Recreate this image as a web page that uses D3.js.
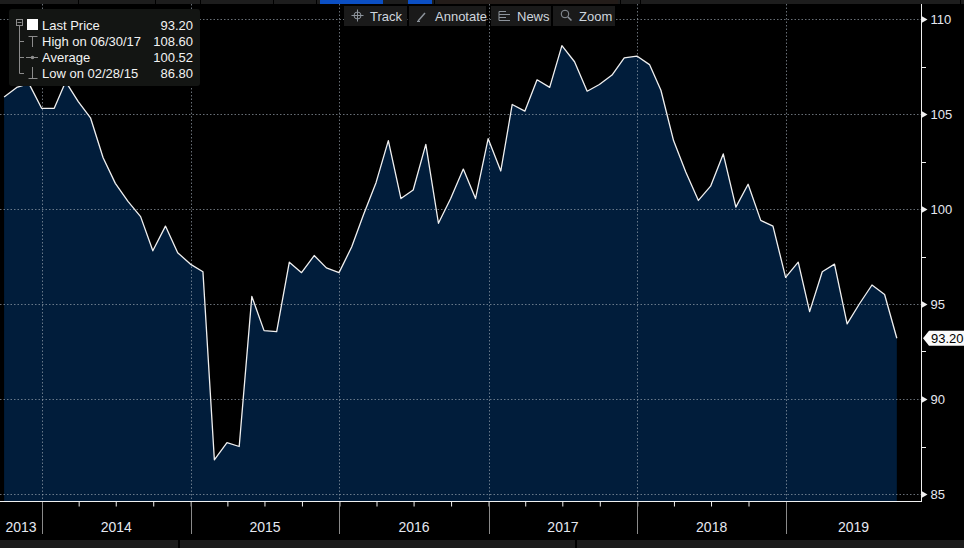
<!DOCTYPE html>
<html><head><meta charset="utf-8">
<script src="https://cdn.jsdelivr.net/npm/d3@7"></script>
<style>
html,body{margin:0;padding:0;background:#000;overflow:hidden}
svg{display:block}
text{font-family:"Liberation Sans",Arial,sans-serif}
</style></head>
<body>
<svg id="c" width="964" height="548"></svg>
<script>
// ---------- data (month-end closes, Sep 2013 .. Sep 2019) ----------
const firstMonth = "2013-09";
const prices = [
  105.9,106.4,106.6,105.3,                                   // 2013 Sep-Dec
  105.3,106.7,105.65,104.8,102.7,101.35,100.4,99.6,97.8,99.1,97.7,97.1, // 2014
  96.7,86.8,87.7,87.5,95.4,93.6,93.55,97.2,96.65,97.55,96.9,96.65,     // 2015
  98.0,99.7,101.4,103.6,100.55,101.0,103.4,99.25,100.55,102.1,100.55,103.7, // 2016
  102.0,105.5,105.15,106.8,106.4,108.6,107.75,106.2,106.55,107.05,107.95,108.05, // 2017
  107.6,106.25,103.6,101.95,100.45,101.2,102.9,100.1,101.3,99.4,99.1,96.4, // 2018
  97.2,94.6,96.7,97.1,93.95,95.0,96.0,95.5,93.2                   // 2019 Jan-Sep
];
const yTicks = [85, 90, 95, 100, 105, 110];
const yMinorTicks = [87.5, 92.5, 97.5, 102.5, 107.5];
const yearLabels = ["2013","2014","2015","2016","2017","2018","2019"];
const legendRows = [
  {label:"Last Price",        value:"93.20"},
  {label:"High on 06/30/17",  value:"108.60"},
  {label:"Average",           value:"100.52"},
  {label:"Low on 02/28/15",   value:"86.80"}
];
const toolbarItems = ["Track","Annotate","News","Zoom"];
const lastPriceLabel = "93.20";

// ---------- derived ----------
const parseM = d3.timeParse("%Y-%m");
const start = parseM(firstMonth);
const data = prices.map((v,i)=>{
  const m = d3.timeMonth.offset(start, i+1);
  return {date: d3.timeDay.offset(m, -1), value: v};
});

const svg = d3.select("#c");
const W = 964, H = 548;
const plotRight = 921, axisY = 501;

const x = d3.scaleTime()
  .domain([new Date(2014,0,1), new Date(2019,0,1)])
  .range([42, 786]);
const y = d3.scaleLinear().domain([85,110]).range([494,19]);

// background
svg.append("rect").attr("width",W).attr("height",H).attr("fill","#000");

// top strip
const topStrip = svg.append("g");
topStrip.append("rect").attr("x",0).attr("y",0).attr("width",W).attr("height",4).attr("fill","#1d1d1d");
topStrip.append("rect").attr("x",320).attr("y",0).attr("width",63).attr("height",4).attr("fill","#0b4fc4");
topStrip.append("rect").attr("x",408).attr("y",0).attr("width",24).attr("height",4).attr("fill","#0b4fc4");
topStrip.append("rect").attr("x",438).attr("y",0).attr("width",180).attr("height",4).attr("fill","#231c19");
[78,155,200,273,316,434,620,640,960].forEach(px=>topStrip.append("rect").attr("x",px).attr("y",0).attr("width",1).attr("height",4).attr("fill","#000"));

// bottom strip
const botStrip = svg.append("g");
[[0,178],[180,575],[577,964]].forEach(([a,b])=>botStrip.append("rect").attr("x",a).attr("y",540).attr("width",b-a).attr("height",8).attr("fill","#1c1c1c"));

// area + line
const area = d3.area().x(d=>x(d.date)).y0(axisY).y1(d=>y(d.value));
svg.append("path").datum(data).attr("d",area).attr("fill","#011d3b");

// grid
const grid = svg.append("g").attr("stroke","#a0aab5").attr("stroke-opacity",0.65)
  .attr("stroke-dasharray","1.5,2").attr("stroke-width",1);
yTicks.forEach(t=>grid.append("line").attr("x1",0).attr("x2",plotRight).attr("y1",Math.round(y(t))+0.5).attr("y2",Math.round(y(t))+0.5));
const yearStarts = d3.timeYear.range(new Date(2014,0,1), new Date(2020,0,1));
yearStarts.forEach(d=>grid.append("line").attr("x1",Math.round(x(d))+0.5).attr("x2",Math.round(x(d))+0.5).attr("y1",4).attr("y2",axisY));

const line = d3.line().x(d=>x(d.date)).y(d=>y(d.value));
svg.append("path").datum(data).attr("d",line).attr("fill","none")
  .attr("stroke","#f0f0f0").attr("stroke-width",1.3).attr("stroke-linejoin","round");

// right axis
const yAxis = d3.axisRight(y).tickValues(yTicks).tickSize(0).tickPadding(9).tickFormat(d3.format("d"));
const ya = svg.append("g").attr("transform",`translate(${plotRight+0.5},0)`).call(yAxis);
ya.select(".domain").remove();
ya.selectAll("text").attr("fill","#e6e8f0").attr("font-size",13).attr("font-family","'Liberation Sans',Arial,sans-serif");
ya.selectAll(".tick").append("path").attr("d","M0,-3.5L6,0L0,3.5Z").attr("fill","#f0f0f0");
svg.append("line").attr("x1",plotRight+0.5).attr("x2",plotRight+0.5).attr("y1",4).attr("y2",axisY).attr("stroke","#f0f0f0");
yMinorTicks.forEach(t=>svg.append("line").attr("x1",plotRight).attr("x2",plotRight+5)
  .attr("y1",Math.round(y(t))+0.5).attr("y2",Math.round(y(t))+0.5).attr("stroke","#f0f0f0"));

// bottom axis
const xAxis = d3.axisBottom(x).ticks(d3.timeMonth.every(3)).tickSize(5).tickFormat("");
const xa = svg.append("g").attr("transform",`translate(0,${axisY+0.5})`).call(xAxis);
xa.select(".domain").remove();
xa.selectAll(".tick").filter(function(){const t=this.getAttribute("transform");const px=+t.match(/translate\(([-\d.]+)/)[1];return px<0||px>plotRight;}).remove();
xa.selectAll("line").attr("stroke","#f0f0f0");
svg.append("line").attr("x1",0).attr("x2",plotRight+1).attr("y1",axisY+0.5).attr("y2",axisY+0.5).attr("stroke","#f0f0f0");
yearStarts.filter(d=>x(d)<plotRight).forEach(d=>svg.append("line")
  .attr("x1",Math.round(x(d))+0.5).attr("x2",Math.round(x(d))+0.5)
  .attr("y1",axisY+1).attr("y2",534).attr("stroke","#8a8a8a"));
yearLabels.forEach(lbl=>{
  const yr=+lbl;
  const a=Math.max(0,x(new Date(yr,0,1))), b=Math.min(plotRight,x(new Date(yr+1,0,1)));
  svg.append("text").attr("x",(a+b)/2).attr("y",532).attr("text-anchor","middle")
    .attr("fill","#e6e8f0").attr("font-size",14)
    .attr("font-family","'Liberation Sans Narrow','Arial Narrow','Liberation Sans',sans-serif")
    .text(lbl);
});

// last price tag
const ly = y(prices[prices.length-1]);
svg.append("path").attr("d",`M923,${ly}L929,${ly-7.5}L964,${ly-7.5}L964,${ly+7.5}L929,${ly+7.5}Z`).attr("fill","#fafafa");
svg.append("text").attr("x",931).attr("y",ly+4.5).attr("fill","#000").attr("font-size",13).text(lastPriceLabel);

// legend
const lg = svg.append("g");
lg.append("rect").attr("x",9).attr("y",9).attr("width",191).attr("height",77).attr("rx",3).attr("fill","#131513");
const gcol="#8c8c8c";
lg.append("rect").attr("x",16.5).attr("y",19.5).attr("width",6).attr("height",6).attr("fill","none").attr("stroke",gcol);
lg.append("line").attr("x1",17.5).attr("x2",21.5).attr("y1",22.5).attr("y2",22.5).attr("stroke",gcol);
lg.append("line").attr("x1",19.5).attr("x2",19.5).attr("y1",26).attr("y2",73.5).attr("stroke",gcol);
[41,57,73].forEach(yy=>lg.append("line").attr("x1",19.5).attr("x2",24).attr("y1",yy+0.5).attr("y2",yy+0.5).attr("stroke",gcol));
lg.append("rect").attr("x",27).attr("y",19).attr("width",11).attr("height",11).attr("fill","#fff");
// high icon
lg.append("path").attr("d","M28.5,36.5H37.5M32.5,36.5V47").attr("stroke",gcol).attr("fill","none");
// average icon
lg.append("path").attr("d","M26,57.5H38").attr("stroke",gcol);
lg.append("circle").attr("cx",32.5).attr("cy",57.5).attr("r",1.8).attr("fill",gcol);
// low icon
lg.append("path").attr("d","M32.5,67V78.5M28.5,78.5H37.5").attr("stroke",gcol).attr("fill","none");
legendRows.forEach((r,i)=>{
  const by = 30 + i*16;
  lg.append("text").attr("x",42).attr("y",by).attr("fill","#f2f2f2").attr("font-size",13).text(r.label);
  lg.append("text").attr("x",193).attr("y",by).attr("text-anchor","end").attr("fill","#f2f2f2").attr("font-size",13).text(r.value);
});

// toolbar
const tb = svg.append("g");
const boxes = [[344,407,370],[409,486,435],[491,551,517],[553,615,579]];
const icol="#8d949c";
boxes.forEach(([a,b,tx],i)=>{
  tb.append("rect").attr("x",a).attr("y",6).attr("width",b-a).attr("height",20).attr("fill","#1a1a1a");
  tb.append("text").attr("x",tx).attr("y",20.5).attr("fill","#cfd6de").attr("font-size",13).text(toolbarItems[i]);
});
// icons
tb.append("circle").attr("cx",357.5).attr("cy",15.5).attr("r",3.5).attr("fill","none").attr("stroke",icol);
tb.append("path").attr("d","M351.5,15.5H363.5M357.5,9.5V21.5").attr("stroke",icol);
tb.append("path").attr("d","M418,21L425,13").attr("stroke",icol).attr("stroke-width",1.5);
tb.append("path").attr("d","M417,21.5H420").attr("stroke",icol);
[11.5,14.5,17.5,20.5].forEach((yy,i)=>tb.append("path").attr("d",`M499,${yy}H${i%2?510:506}`).attr("stroke",icol));
tb.append("path").attr("d","M499,11.5V20.5").attr("stroke",icol);
tb.append("circle").attr("cx",565).attr("cy",14).attr("r",3.8).attr("fill","none").attr("stroke",icol);
tb.append("path").attr("d","M568,17L571.5,20.5").attr("stroke",icol).attr("stroke-width",1.5);
</script>
</body></html>
